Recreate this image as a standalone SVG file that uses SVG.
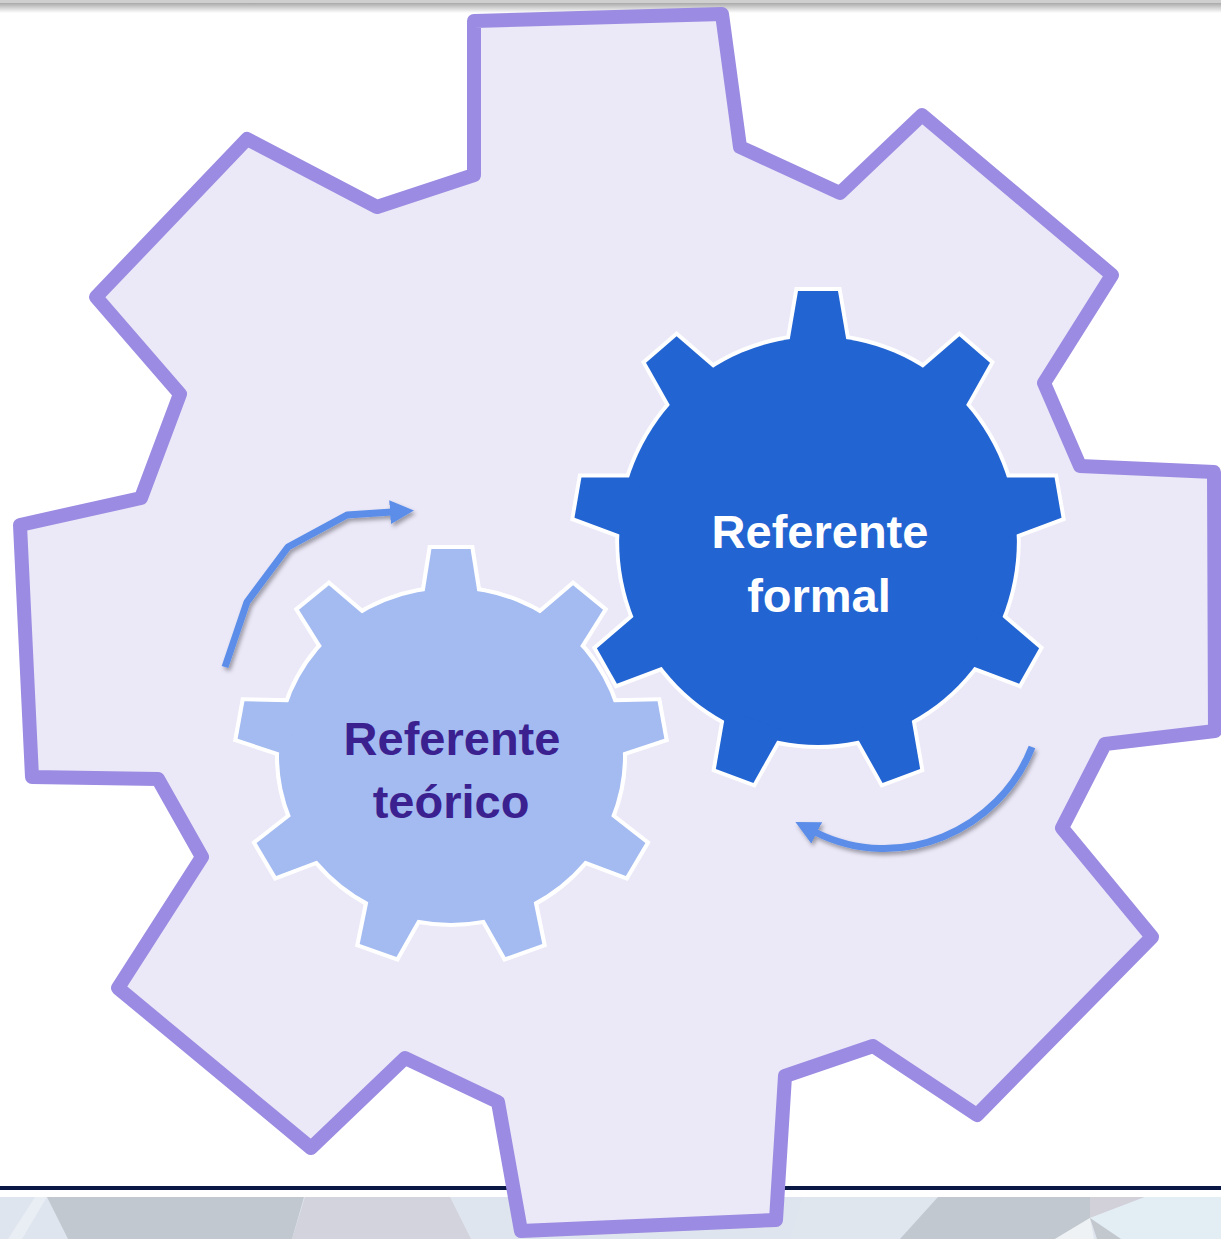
<svg xmlns="http://www.w3.org/2000/svg" width="1221" height="1239" viewBox="0 0 1221 1239">
  <defs>
    <style>
      .big { fill: #ebe8f8; stroke: #9b8be2; stroke-width: 14; stroke-linejoin: round; }
      .label { font-family: "Liberation Sans", Arial, sans-serif; font-weight: bold; font-size: 47px; text-anchor: middle; }
      .arrow { fill: none; stroke: #5b8ee9; stroke-width: 7; stroke-linejoin: round; filter: url(#shadow); }
      .outline { fill: #ffffff; stroke: #ffffff; stroke-width: 8; stroke-linejoin: miter; }
    </style>
    <linearGradient id="topbar" x1="0" y1="0" x2="0" y2="1">
      <stop offset="0" stop-color="#a9a9a9"/>
      <stop offset="1" stop-color="#ffffff"/>
    </linearGradient>
    <filter id="shadow" x="-20%" y="-20%" width="140%" height="140%">
      <feDropShadow dx="2" dy="3" stdDeviation="2" flood-color="#000000" flood-opacity="0.35"/>
    </filter>
    <marker id="head" markerUnits="userSpaceOnUse" markerWidth="24" markerHeight="24" viewBox="0 0 24 24" refX="2" refY="12" orient="auto">
      <path d="M0,0 L24,12 L0,24 z" fill="#5b8ee9"/>
    </marker>
    <g id="shapeFormal">
      <circle cx="0" cy="0" r="204"/>
      <g id="toothF"><polygon points="-31,-190 -20.5,-250 20.5,-250 31,-190"/></g>
      <use href="#toothF" transform="rotate(40)"/>
      <use href="#toothF" transform="rotate(80)"/>
      <use href="#toothF" transform="rotate(120)"/>
      <use href="#toothF" transform="rotate(160)"/>
      <use href="#toothF" transform="rotate(200)"/>
      <use href="#toothF" transform="rotate(240)"/>
      <use href="#toothF" transform="rotate(280)"/>
      <use href="#toothF" transform="rotate(320)"/>
    </g>
    <g id="shapeTeorico">
      <circle cx="0" cy="0" r="167"/>
      <g id="toothT"><polygon points="-27,-155 -19,-207 19,-207 27,-155"/></g>
      <use href="#toothT" transform="rotate(40)"/>
      <use href="#toothT" transform="rotate(80)"/>
      <use href="#toothT" transform="rotate(120)"/>
      <use href="#toothT" transform="rotate(160)"/>
      <use href="#toothT" transform="rotate(200)"/>
      <use href="#toothT" transform="rotate(240)"/>
      <use href="#toothT" transform="rotate(280)"/>
      <use href="#toothT" transform="rotate(320)"/>
    </g>
  </defs>

  <rect x="0" y="0" width="1221" height="1239" fill="#ffffff"/>

  <!-- top bar -->
  <rect x="0" y="0" width="1221" height="3" fill="#cfcfcf"/>
  <rect x="0" y="3" width="1221" height="10" fill="url(#topbar)"/>

  <!-- bottom band -->
  <g id="bottom-band">
    <rect x="0" y="1186" width="1221" height="4" fill="#0b1744"/>
    <rect x="0" y="1197" width="1221" height="42" fill="#dfe5ee"/>
    <polygon points="35,1197 47,1197 22,1239 8,1239" fill="#e9eef5"/>
    <polygon points="47,1197 304,1197 292,1239 68,1239" fill="#c2c8cf"/>
    <polygon points="305,1197 450,1197 471,1239 292,1239" fill="#d2d3dc"/>
    <polygon points="802,1197 938,1197 900,1239 790,1239" fill="#dfe6ee"/>
    <polygon points="938,1197 1090,1197 1090,1218 1055,1239 900,1239" fill="#c2c8cf"/>
    <polygon points="1090,1197 1145,1197 1090,1218" fill="#d2d0d9"/>
    <polygon points="1145,1197 1221,1197 1221,1239 1121,1239 1090,1218" fill="#e3edf4"/>
    <polygon points="1055,1239 1090,1218 1094,1239" fill="#eef2f4"/>
    <polygon points="1090,1218 1121,1239 1097,1239" fill="#c3c8cf"/>
  </g>

  <!-- background gear -->
  <g id="big-gear">
    <path class="big" d="M474,21 L722,14 L740,147 L840,193 L922,115 L1112,275 L1044,383 L1080,466 L1214,472 L1215,731 L1105,744 L1062,828 L1152,937 L977,1115 L873,1046 L785,1076 L776,1220 L521,1231 L498,1102 L405,1058 L311,1148 L118,988 L202,857 L158,779 L32,777 L20,525 L141,498 L180,394 L96,297 L247,139 L377,207 L474,175 Z"/>
  </g>

  <!-- gear: Referente teórico -->
  <g id="gear-teorico">
    <g transform="translate(451,756) scale(1.03,1)">
      <use href="#shapeTeorico" class="outline"/>
      <use href="#shapeTeorico" fill="#a3bbf1" stroke="none"/>
    </g>
    <text class="label" x="452" y="755" fill="#3b2190">Referente</text>
    <text class="label" x="451" y="818" fill="#3b2190">teórico</text>
  </g>

  <!-- gear: Referente formal -->
  <g id="gear-formal">
    <g transform="translate(818,541) scale(0.975,1)">
      <use href="#shapeFormal" class="outline"/>
      <use href="#shapeFormal" fill="#2264d2" stroke="none"/>
    </g>
    <text class="label" x="820" y="548" fill="#ffffff">Referente</text>
    <text class="label" x="819" y="612" fill="#ffffff">formal</text>
  </g>

  <!-- connectors -->
  <g id="connectors">
    <path class="arrow" d="M225,667 L247,602 L288,547 L347,515 L392,512" marker-end="url(#head)"/>
    <path class="arrow" d="M1032,747 C1000,830 900,875 815,832" stroke-width="6" marker-end="url(#head)"/>
  </g>
</svg>
